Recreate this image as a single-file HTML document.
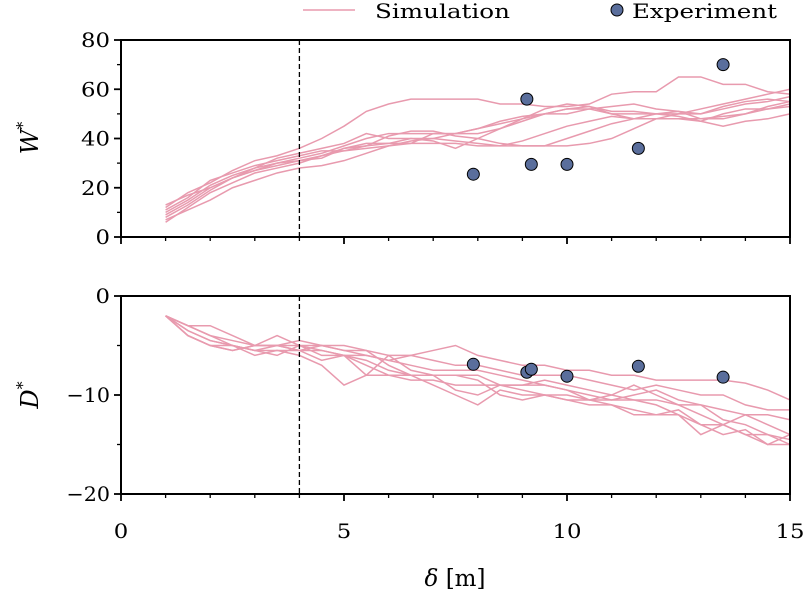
<!DOCTYPE html>
<html><head><meta charset="utf-8"><style>
body{margin:0;background:#fff}
svg text{font-family:"DejaVu Serif","Liberation Serif",serif;font-size:20px;fill:#000}
</style></head><body>
<svg id="c" width="803" height="593" viewBox="0 0 803 593"></svg>
<script>
const xs=[1,1.5,2,2.5,3,3.5,4,4.5,5,5.5,6,6.5,7,7.5,8,8.5,9,9.5,10,10.5,11,11.5,12,12.5,13,13.5,14,14.5,15];
const simW=[
[12,18,22,27,31,33,36,40,45,51,54,56,56,56,56,54,54,53,53,54,58,59,59,65,65,62,62,59,58],
[8,13,19,24,28,30,32,34,37,40,42,42,42,42,42,44,47,50,52,53,51,51,50,50,52,54,56,58,60],
[10,15,21,25,28,32,34,36,38,42,40,40,39,36,40,44,48,52,54,53,50,48,48,50,50,53,55,56,55],
[6,12,18,22,26,28,30,33,36,37,41,43,43,41,40,38,37,37,40,43,46,48,50,51,50,52,54,55,57],
[13,17,20,24,27,30,31,32,36,38,38,38,38,38,37,37,37,37,37,38,40,44,48,48,48,49,50,53,55],
[9,14,20,24,27,29,31,33,35,37,38,40,40,39,38,37,39,42,45,47,49,48,48,48,47,50,52,52,54],
[11,16,23,26,29,31,33,35,35,36,37,38,42,42,44,46,48,50,52,52,50,50,50,49,47,45,47,48,50],
[7,11,15,20,23,26,28,29,31,34,37,39,40,42,44,47,49,50,50,52,53,54,52,51,48,48,50,52,53]];
const simD=[
[-2,-3,-3,-4,-5,-5,-5.5,-5,-5.5,-5.5,-6,-6,-5.5,-5,-6,-6.5,-7,-7,-7.5,-7.5,-8,-8,-8.5,-8.5,-8.5,-8.5,-8.8,-9.5,-10.5],
[-2,-4,-5,-5.5,-5,-4,-5,-5.5,-6,-8,-8,-8.5,-8.5,-9,-9,-9,-9,-8.5,-9,-9.5,-10,-10.5,-11,-12,-13,-13,-12,-13,-14],
[-2,-3.5,-4.5,-5,-5.5,-6,-5,-6,-6,-7,-8,-8,-9,-10,-11,-9.5,-10,-10,-10.5,-10.5,-10,-9,-10,-11,-12,-13,-14,-15,-14],
[-2,-4,-5,-5.5,-5,-5,-5,-5,-5,-5.5,-7,-8,-8,-8,-8,-9,-9.5,-10,-10.5,-11,-11,-11.5,-12,-12,-14,-13,-14,-14,-14.5],
[-2,-3,-4,-5,-5.5,-5.5,-5.5,-6.5,-6,-6,-6.5,-7,-7.5,-7.5,-7.5,-8,-8.5,-9,-9.5,-10,-10.5,-10.5,-10.5,-11,-11,-11.5,-12,-12,-12.5],
[-2,-4,-5,-5,-6,-5.5,-6,-7,-9,-8,-6,-7.5,-8,-9.5,-10,-9,-9,-9,-9.5,-10.5,-10.5,-10,-9.5,-10.5,-11,-12.5,-13,-14,-15],
[-2,-3.5,-4.5,-5,-5.5,-5,-4.5,-5,-5.5,-6,-6.5,-6,-6.5,-7,-7,-7.5,-8,-8,-8,-8.5,-9,-9.5,-9,-9.5,-10,-10,-11,-11.5,-11.5],
[-2,-3,-4,-4.5,-5,-5,-5.5,-5.5,-6,-6.5,-7.5,-8,-8,-8,-8.5,-10,-10.5,-10,-10,-10.5,-11,-12,-12,-11.5,-13,-14,-13.5,-15,-15]];
const expX=[7.9,9.1,9.2,10,11.6,13.5];
const expW=[25.5,56,29.5,29.5,36,70];
const expD=[-6.9,-7.7,-7.4,-8.1,-7.1,-8.2];
const xTicks=[0,5,10,15];
const wTicks=[0,20,40,60,80];
const dTicks=[0,-10,-20];

const svg=document.getElementById('c');const NS='http://www.w3.org/2000/svg';
function mk(t,a,p){const e=document.createElementNS(NS,t);for(const k in a)e.setAttribute(k,a[k]);(p||svg).appendChild(e);return e;}
const X=v=>121+v*(669/15);
const YW=v=>237-v*197/80;
const YD=v=>296+(-v)*198/20;
const PINK='#e89aae',DOT='#5a6e9c';

function panel(name,Y,sim,exp,yt,ymin,ymax,ystep){
  const g=mk('g',{});
  
  
  sim.forEach((s,i)=>{
    const p=mk('polyline',{points:s.map((v,j)=>X(xs[j])+','+Y(v)).join(' '),fill:'none',stroke:PINK,'stroke-width':1.5},g);
    
    
  });
  const dl=mk('line',{x1:X(4),x2:X(4),y1:Y(ymax),y2:Y(ymin),stroke:'#000','stroke-width':1.3,'stroke-dasharray':'5,3'},g);
  
  
  exp.forEach((v,i)=>{
    const c=mk('circle',{cx:X(expX[i]),cy:Y(v),r:6,fill:DOT,stroke:'#000','stroke-width':1},g);
    
    
  });
  const fr=mk('rect',{x:X(0),y:Y(ymax),width:X(15)-X(0),height:Y(ymin)-Y(ymax),fill:'none',stroke:'#000','stroke-width':2},g);
  
  
  for(let x=0;x<=15;x++){const maj=x%5==0;mk('line',{x1:X(x),x2:X(x),y1:Y(ymin),y2:Y(ymin)+(maj?7:4),stroke:'#000','stroke-width':maj?1.8:1.3},g);}
  for(let v=ymin;v<=ymax;v+=ystep){const maj=yt.includes(v);mk('line',{x1:X(0),x2:X(0)-(maj?7:4),y1:Y(v),y2:Y(v),stroke:'#000','stroke-width':maj?1.8:1.3},g);}
  yt.forEach(v=>{const s=v<0?'\u2212'+(-v):String(v);const t=mk('text',{x:X(0)-11,y:Y(v)+7,'text-anchor':'end',textLength:s.length*14.5,lengthAdjust:'spacingAndGlyphs'},g);t.textContent=s;
    });
}
panel('w-panel',YW,simW,expW,wTicks,0,80,10);
panel('d-panel',YD,simD,expD,dTicks,-20,0,5);
xTicks.forEach(v=>{const s=String(v);const t=mk('text',{x:X(v),y:538,'text-anchor':'middle',textLength:s.length*14.5,lengthAdjust:'spacingAndGlyphs'});t.textContent=s;
  });
</script>
<svg width="803" height="593" style="position:absolute;left:0;top:0">
<text x="455" y="586" text-anchor="middle" style="font-size:23px"><tspan font-style="italic">δ</tspan> [m]</text>
<text transform="translate(38,138) rotate(-90)" text-anchor="middle" style="font-size:24px"><tspan font-style="italic">W</tspan><tspan dy="-10" style="font-size:16px">*</tspan></text>
<text transform="translate(38,395) rotate(-90)" text-anchor="middle" style="font-size:24px"><tspan font-style="italic">D</tspan><tspan dy="-10" style="font-size:16px">*</tspan></text>
<g>
<line x1="303" x2="355" y1="10" y2="10" stroke="#e89aae" stroke-width="1.5"/>
<text x="375" y="18" textLength="135" lengthAdjust="spacingAndGlyphs">Simulation</text>
<circle cx="617" cy="10" r="6" fill="#5a6e9c" stroke="#000"/>
<text x="632" y="18" textLength="145" lengthAdjust="spacingAndGlyphs">Experiment</text>
</g>
</svg>
</body></html>
